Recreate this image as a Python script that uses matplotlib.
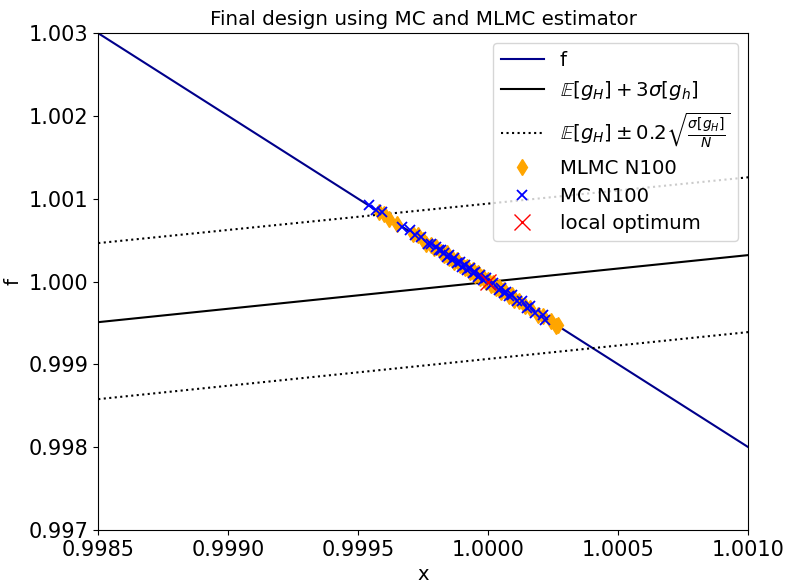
import matplotlib.pyplot as plt

# straight lines (end points)
f_x = [0.9985, 1.0010]
f_y = [1.003, 0.998]
line_x = [0.9985, 1.0010]
mean_3sig = [0.99951, 1.00032]
upper_bound = [1.000465, 1.00126]
lower_bound = [0.99858, 0.99939]

# MLMC N100 samples
mlmc_x = [0.99958, 0.99960, 0.99962, 0.99965, 0.99971, 0.99973, 0.99975, 0.99976,
          0.99978, 0.99979, 0.99980, 0.99982, 0.99983, 0.99984, 0.99985, 0.99986,
          0.99987, 0.99988, 0.99989, 0.99990, 0.99991, 0.99992, 0.99993, 0.99994,
          0.99995, 0.99996, 0.99997, 0.99998, 0.99999, 1.00000, 1.00001, 1.00002,
          1.00003, 1.00004, 1.00005, 1.00006, 1.00008, 1.00009, 1.00010, 1.00012,
          1.00014, 1.00016, 1.00019, 1.00021, 1.00024, 1.00026, 1.00027]
mlmc_y = [1.00084, 1.00082, 1.00076, 1.00070, 1.00058, 1.00056, 1.00050, 1.00046,
          1.00044, 1.00040, 1.00042, 1.00036, 1.00032, 1.00034, 1.00028, 1.00028,
          1.00024, 1.00026, 1.00020, 1.00020, 1.00016, 1.00018, 1.00012, 1.00014,
          1.00008, 1.00010, 1.00004, 1.00006, 1.00000, 1.00002, 0.99996, 0.99998,
          0.99992, 0.99994, 0.99988, 0.99990, 0.99982, 0.99984, 0.99978, 0.99976,
          0.99970, 0.99968, 0.99960, 0.99958, 0.99952, 0.99946, 0.99948]

# MC N100 samples
mc_x = [0.99954, 0.99957, 0.99959, 0.99967, 0.99970, 0.99972, 0.99974, 0.99977,
        0.99978, 0.99980, 0.99981, 0.99982, 0.99983, 0.99984, 0.99985, 0.99986,
        0.99987, 0.99988, 0.99989, 0.99990, 0.99991, 0.99992, 0.99993, 0.99994,
        0.99995, 0.99996, 0.99997, 0.99998, 0.99999, 1.00001, 1.00002, 1.00004,
        1.00005, 1.00006, 1.00007, 1.00008, 1.00009, 1.00011, 1.00013, 1.00015,
        1.00016, 1.00018, 1.00021, 1.00022]
mc_y = [1.00092, 1.00086, 1.00084, 1.00066, 1.00062, 1.00056, 1.00054, 1.00046,
        1.00046, 1.00042, 1.00038, 1.00038, 1.00034, 1.00030, 1.00032, 1.00026,
        1.00028, 1.00022, 1.00024, 1.00018, 1.00020, 1.00014, 1.00016, 1.00010,
        1.00012, 1.00006, 1.00008, 1.00002, 1.00004, 0.99996, 0.99998, 0.99990,
        0.99992, 0.99986, 0.99988, 0.99982, 0.99984, 0.99976, 0.99976, 0.99968,
        0.99970, 0.99962, 0.99960, 0.99954]

opt_x = [1.00000]
opt_y = [1.00000]

fig = plt.figure(figsize=(7.86, 5.83), dpi=100)
ax = fig.add_subplot(111)
fig.subplots_adjust(left=0.125, right=0.952, top=0.943, bottom=0.091)

ax.plot(f_x, f_y, color='darkblue', lw=1.5, label='f')
ax.plot(line_x, mean_3sig, color='black', lw=1.5, label=r'$\mathbb{E}[g_H]+3\sigma[g_h]$')
ax.plot(line_x, upper_bound, color='black', ls=':', lw=1.5,
        label=r'$\mathbb{E}[g_H] \pm 0.2\sqrt{\frac{\sigma[g_H]}{N}}$')
ax.plot(line_x, lower_bound, color='black', ls=':', lw=1.5)
ax.plot(mlmc_x, mlmc_y, 'd', color='orange', ms=8, ls='none', label='MLMC N100')
ax.plot(mc_x, mc_y, 'x', color='blue', ms=7, mew=1.3, ls='none', label='MC N100')
ax.plot(opt_x, opt_y, 'x', color='red', ms=12, ls='none', label='local optimum')

ax.set_xlim(0.9985, 1.0010)
ax.set_ylim(0.997, 1.003)
ax.set_xticks([0.9985, 0.9990, 0.9995, 1.0000, 1.0005, 1.0010])
ax.set_xticklabels(['0.9985', '0.9990', '0.9995', '1.0000', '1.0005', '1.0010'])
ax.set_yticks([0.997, 0.998, 0.999, 1.000, 1.001, 1.002, 1.003])
ax.set_yticklabels(['0.997', '0.998', '0.999', '1.000', '1.001', '1.002', '1.003'])
ax.tick_params(labelsize=15)
ax.set_xlabel('x', fontsize=14)
ax.set_ylabel('f', fontsize=14)
ax.set_title('Final design using MC and MLMC estimator', fontsize=14.3)
ax.legend(loc='upper right', fontsize=14.2, handlelength=2.2, labelspacing=0.44)

plt.savefig('out.png')
